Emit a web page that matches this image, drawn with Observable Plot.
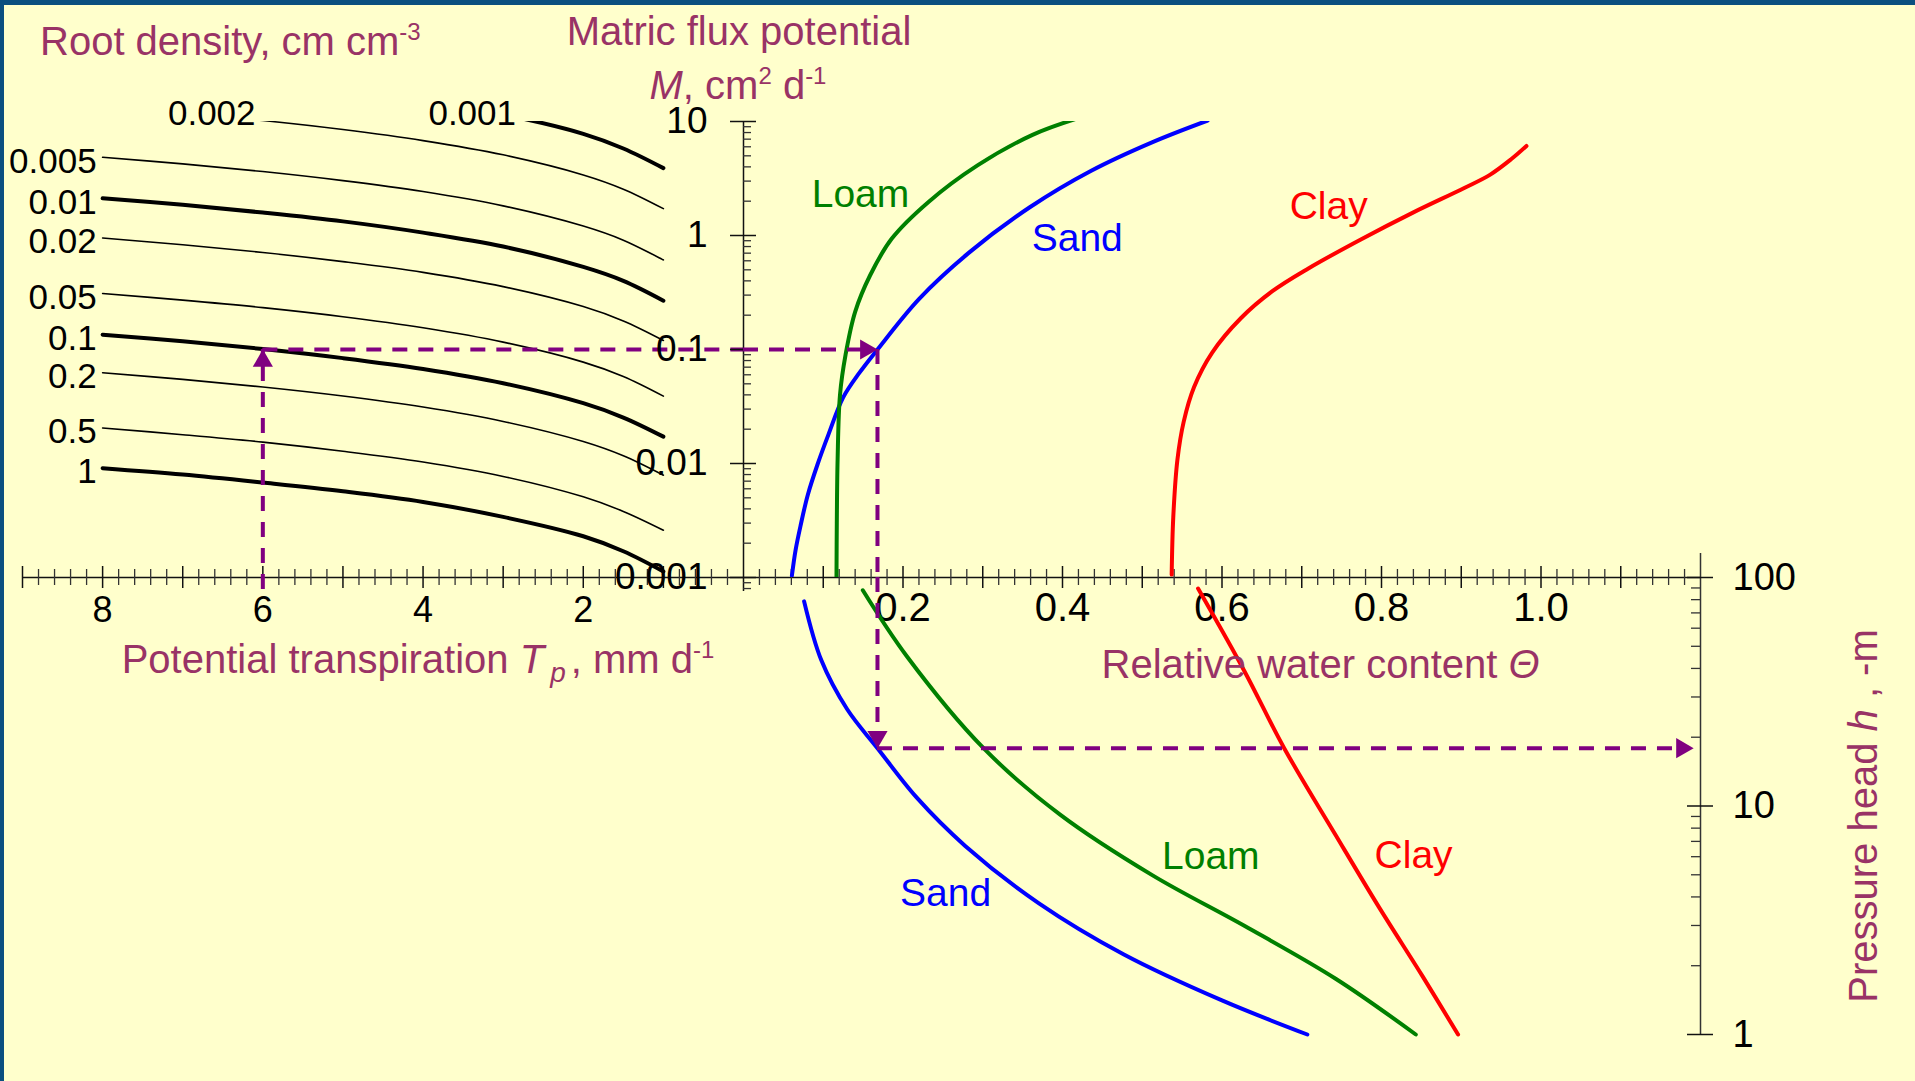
<!DOCTYPE html>
<html>
<head>
<meta charset="utf-8">
<script src="https://cdn.jsdelivr.net/npm/d3@7"></script>
<script src="https://cdn.jsdelivr.net/npm/@observablehq/plot@0.6"></script>
<style>
  html, body { margin: 0; padding: 0; background: #FFFFCC; }
  #chart { position: relative; width: 1915px; height: 1081px; background: #FFFFCC; overflow: hidden;
           font-family: "Liberation Sans", Arial, Helvetica, sans-serif;
           box-shadow: inset 4px 5px 0 0 #0B4F7F; }
  #chart svg { position: absolute; left: 0; top: 0; }
  .lbl { position: absolute; white-space: nowrap; line-height: 1; color: #993366; font-size: 40px; }
  .sup { position: relative; font-size: 0.6em; top: -0.62em; }
  .sub { position: relative; font-size: 0.7em; top: 0.3em; font-style: italic; margin-left: 6px; margin-right: 5px; }
</style>
</head>
<body>
<div id="chart"></div>
<script>
// ---------------- data ----------------
// Left quadrant: matric flux potential M (cm2/d) needed vs potential transpiration Tp (mm/d), per root density
const tpPoints = [8, 7, 6, 5, 4, 3, 2, 1.5, 1];
const rootDensities = [0.001, 0.002, 0.005, 0.01, 0.02, 0.05, 0.1, 0.2, 0.5, 1];
const mRoot0001 = [30, 26.3, 22.5, 18.8, 15, 11.5, 7.8, 5.8, 3.9];
const mRoot0002 = [13.6, 11.9, 10.2, 8.5, 6.8, 5.1, 3.4, 2.55, 1.72];
const mRoot0005 = [4.85, 4.25, 3.64, 3.03, 2.43, 1.82, 1.21, 0.91, 0.61];
const mRoot001  = [2.12, 1.86, 1.59, 1.33, 1.06, 0.80, 0.53, 0.40, 0.268];
const mRoot002  = [0.95, 0.83, 0.71, 0.59, 0.475, 0.356, 0.238, 0.178, 0.12];
const mRoot005  = [0.31, 0.271, 0.233, 0.194, 0.155, 0.116, 0.0775, 0.058, 0.039];
const mRoot01   = [0.135, 0.118, 0.101, 0.084, 0.0675, 0.0506, 0.0338, 0.0253, 0.0172];
const mRoot02   = [0.0625, 0.0547, 0.0469, 0.0391, 0.0313, 0.0234, 0.0156, 0.0117, 0.0079];
const mRoot05   = [0.0205, 0.0179, 0.0154, 0.0128, 0.0103, 0.0077, 0.0051, 0.0038, 0.0026];
const mRoot1    = [0.0091, 0.0080, 0.0068, 0.0057, 0.0046, 0.0034, 0.0023, 0.0017, 0.00113];
const thickDensities = [0.001, 0.01, 0.1, 1];

// Upper right: M vs relative water content
const sandThetaUp = [0.0607, 0.0653, 0.0715, 0.0806, 0.0928, 0.1066, 0.125, 0.145, 0.168, 0.220, 0.282, 0.359, 0.436, 0.513, 0.582];
const sandMUp     = [0.00104, 0.00174, 0.00284, 0.0053, 0.0098, 0.018, 0.038, 0.062, 0.1, 0.277, 0.70, 1.77, 3.7, 6.6, 10.2];
const loamThetaUp = [0.1166, 0.117, 0.118, 0.121, 0.128, 0.140, 0.1588, 0.186, 0.232, 0.2934, 0.3624, 0.416];
const loamMUp     = [0.001, 0.003, 0.0108, 0.040, 0.09, 0.214, 0.448, 0.94, 1.97, 4.12, 7.64, 10.5];
const clayThetaUp = [0.5369, 0.5389, 0.5441, 0.552, 0.565, 0.5877, 0.6236, 0.6627, 0.7083, 0.7735, 0.8388, 0.9038, 0.9364, 0.9625, 0.9818];
const clayMUp     = [0.00106, 0.00339, 0.0108, 0.0233, 0.0469, 0.094, 0.188, 0.323, 0.514, 0.918, 1.58, 2.61, 3.42, 4.66, 6.1];

// Lower right: pressure head h (-m) vs relative water content
const sandThetaLow = [0.076, 0.0975, 0.130, 0.168, 0.217, 0.278, 0.370, 0.477, 0.600, 0.707];
const sandHLow     = [78.6, 43.5, 26.5, 17.9, 10.9, 6.69, 3.76, 2.24, 1.41, 1.0];
const loamThetaLow = [0.1496, 0.205, 0.301, 0.397, 0.513, 0.628, 0.743, 0.843];
const loamHLow     = [87.9, 45.1, 17.9, 9.17, 4.97, 2.99, 1.75, 1.0];
const clayThetaLow = [0.570, 0.628, 0.678, 0.743, 0.797, 0.851, 0.896];
const clayHLow     = [89.5, 39, 17.9, 7.41, 3.6, 1.81, 1.0];

// Worked example (dashed arrows)
const exampleTp = 6, exampleM = 0.1, exampleTheta = 0.168, exampleH = 17.9;

// Tick labels
const tpTickLabels = [8, 6, 4, 2];
const thetaTickValues = [0.2, 0.4, 0.6, 0.8, 1.0];
const thetaTickLabels = ["0.2", "0.4", "0.6", "0.8", "1.0"];
const mTickValues = [10, 1, 0.1, 0.01, 0.001];
const mTickLabels = ["10", "1", "0.1", "0.01", "0.001"];
const hTickValues = [100, 10, 1];
const hTickLabels = ["100", "10", "1"];

// ---------------- derived tables ----------------
const rootM = [mRoot0001, mRoot0002, mRoot0005, mRoot001, mRoot002, mRoot005, mRoot01, mRoot02, mRoot05, mRoot1];
const rootRows = rootDensities.flatMap((L, k) => rootM[k].map((m, i) => ({L, tp: tpPoints[i], m})));
const thickRows = rootRows.filter(d => thickDensities.includes(d.L));
const thinRows = rootRows.filter(d => !thickDensities.includes(d.L));
const sideLabels = [], topLabels = [];
rootDensities.forEach((L, k) => {
  const m = rootM[k];
  if (m[0] < 10) sideLabels.push({L, tp: tpPoints[0], m: m[0]});
  else {
    for (let i = 0; i < m.length - 1; i++) {
      if (m[i] >= 10 && m[i + 1] < 10) {
        const t = (Math.log10(m[i]) - 1) / (Math.log10(m[i]) - Math.log10(m[i + 1]));
        topLabels.push({L, tp: tpPoints[i] + t * (tpPoints[i + 1] - tpPoints[i]), m: 10});
        break;
      }
    }
  }
});
const zip = (xs, ys, kx, ky) => xs.map((x, i) => ({[kx]: x, [ky]: ys[i]}));
const sandUp = zip(sandThetaUp, sandMUp, "theta", "m");
const loamUp = zip(loamThetaUp, loamMUp, "theta", "m");
const clayUp = zip(clayThetaUp, clayMUp, "theta", "m");
const sandLow = zip(sandThetaLow, sandHLow, "theta", "h");
const loamLow = zip(loamThetaLow, loamHLow, "theta", "h");
const clayLow = zip(clayThetaLow, clayHLow, "theta", "h");

const tpMajor = d3.range(1, 10);
const tpMinor = d3.range(1, 46).filter(i => i % 5 !== 0).map(i => i * 0.2);
const thetaMajor = d3.range(1, 12).map(i => i / 10);
const thetaMinor = d3.range(1, 60).filter(i => i % 5 !== 0).map(i => i / 50);
const mMinor = [0.0008, 0.0009].concat(...[0.001, 0.01, 0.1, 1].map(dec => d3.range(2, 10).map(k => k * dec)));
const hMinor = [].concat(...[1, 10].map(dec => d3.range(2, 10).map(k => k * dec)));

// ---------------- layout ----------------
const W = 1915, H = 1081;
const X0 = 743, XR = 1700, Y_TOP = 121, Y_AX = 577, Y_BOT = 1034;
const FONT = "'Liberation Sans', Arial, Helvetica, sans-serif";
const PURPLE = "#800080";
const DASH = "15,11";
const AR = 7.5, AOFF = 11.5;   // arrowhead size and tip offset (px)
const base = {
  width: W, height: H,
  style: {background: "transparent", fontFamily: FONT, overflow: "visible"}
};
const axisStroke = "#111";

// Left quadrant
const left = Plot.plot({
  ...base,
  marginLeft: 22, marginRight: W - X0, marginTop: Y_TOP, marginBottom: H - Y_AX,
  x: {type: "linear", domain: [9, 0], axis: null},
  y: {type: "log", domain: [0.001, 10], axis: null},
  marks: [
    Plot.ruleY([0.001], {stroke: axisStroke, strokeWidth: 1.5}),
    Plot.ruleX(tpMinor, {x: d => d, y1: 0.001, y2: 0.001, insetTop: -8, insetBottom: -8, stroke: "#333", strokeWidth: 1.3}),
    Plot.ruleX(tpMajor, {x: d => d, y1: 0.001, y2: 0.001, insetTop: -11, insetBottom: -11, stroke: axisStroke, strokeWidth: 1.5}),
    Plot.text(tpTickLabels, {x: d => d, frameAnchor: "bottom", dy: 44, text: d => String(d), fontSize: 36, fill: "black"}),
    Plot.line(thinRows, {x: "tp", y: "m", z: "L", stroke: "black", strokeWidth: 1.6, curve: "catmull-rom", clip: true}),
    Plot.line(thickRows, {x: "tp", y: "m", z: "L", stroke: "black", strokeWidth: 4, curve: "catmull-rom", clip: true}),
    Plot.text(sideLabels, {x: "tp", y: "m", text: d => String(d.L), textAnchor: "end", dx: -6, dy: 4, fontSize: 35, fill: "black"}),
    Plot.text(topLabels, {x: "tp", y: "m", text: d => String(d.L), textAnchor: "end", dx: -16, dy: -8, fontSize: 35, fill: "black"}),
    // worked example
    Plot.ruleX([exampleTp], {x: d => d, y1: 0.001, y2: exampleM, insetTop: 12, stroke: PURPLE, strokeWidth: 4, strokeDasharray: DASH}),
    Plot.ruleY([exampleM], {y: d => d, x1: exampleTp, x2: 0, stroke: PURPLE, strokeWidth: 4, strokeDasharray: DASH}),
    Plot.dot([exampleTp], {x: d => d, y: exampleM, symbol: "triangle", r: AR, fill: PURPLE, stroke: "none", dy: AOFF})
  ]
});

// Upper right quadrant
const upper = Plot.plot({
  ...base,
  marginLeft: X0, marginRight: W - XR, marginTop: Y_TOP, marginBottom: H - Y_AX,
  x: {type: "linear", domain: [0, 1.2], axis: null},
  y: {type: "log", domain: [0.001, 10], axis: null},
  marks: [
    Plot.ruleY([0.001], {stroke: axisStroke, strokeWidth: 1.5}),
    Plot.ruleX(thetaMinor, {x: d => d, y1: 0.001, y2: 0.001, insetTop: -8, insetBottom: -8, stroke: "#333", strokeWidth: 1.3}),
    Plot.ruleX(thetaMajor, {x: d => d, y1: 0.001, y2: 0.001, insetTop: -11, insetBottom: -11, stroke: axisStroke, strokeWidth: 1.5}),
    Plot.text(thetaTickValues, {x: d => d, frameAnchor: "bottom", dy: 43, text: (d, i) => thetaTickLabels[i], fontSize: 40, fill: "black"}),
    // M axis
    Plot.ruleX([0], {x: d => d, y1: 10, y2: 0.001, insetBottom: -14, stroke: axisStroke, strokeWidth: 1.5}),
    Plot.ruleY(mMinor, {y: d => d, x1: 0, x2: 0, insetLeft: 0, insetRight: -8, stroke: "#333", strokeWidth: 1.3}),
    Plot.ruleY(mTickValues, {y: d => d, x1: 0, x2: 0, insetLeft: -13, insetRight: -13, stroke: axisStroke, strokeWidth: 1.5}),
    Plot.text(mTickValues, {y: d => d, frameAnchor: "left", dx: -36, textAnchor: "end", text: (d, i) => mTickLabels[i], fontSize: 37, fill: "black"}),
    // soil curves
    Plot.line(sandUp, {x: "theta", y: "m", stroke: "#0000FF", strokeWidth: 4, curve: "catmull-rom", clip: true}),
    Plot.line(loamUp, {x: "theta", y: "m", stroke: "#008000", strokeWidth: 4, curve: "catmull-rom", clip: true}),
    Plot.line(clayUp, {x: "theta", y: "m", stroke: "#FF0000", strokeWidth: 4, curve: "catmull-rom", clip: true}),
    // worked example
    Plot.ruleY([exampleM], {y: d => d, x1: 0, x2: exampleTheta, insetRight: 12, stroke: PURPLE, strokeWidth: 4, strokeDasharray: DASH}),
    Plot.ruleX([exampleTheta], {x: d => d, y1: exampleM, y2: 0.001, stroke: PURPLE, strokeWidth: 4, strokeDasharray: DASH}),
    Plot.dot([exampleTheta], {x: d => d, y: exampleM, symbol: "triangle", r: AR, rotate: 90, fill: PURPLE, stroke: "none", dx: -AOFF})
  ]
});

// Lower right quadrant
const lower = Plot.plot({
  ...base,
  marginLeft: X0, marginRight: W - XR, marginTop: Y_AX, marginBottom: H - Y_BOT,
  x: {type: "linear", domain: [0, 1.2], axis: null},
  y: {type: "log", domain: [1, 100], axis: null},
  marks: [
    Plot.ruleX([1.2], {x: d => d, y1: 100, y2: 1, insetTop: -24, stroke: "#333", strokeWidth: 1.5}),
    Plot.ruleY(hMinor, {y: d => d, x1: 1.2, x2: 1.2, insetLeft: -9, insetRight: 0, stroke: "#333", strokeWidth: 1.3}),
    Plot.ruleY(hTickValues, {y: d => d, x1: 1.2, x2: 1.2, insetLeft: -13, insetRight: -13, stroke: axisStroke, strokeWidth: 1.5}),
    Plot.text(hTickValues, {y: d => d, frameAnchor: "right", dx: 32, textAnchor: "start", text: (d, i) => hTickLabels[i], fontSize: 38, fill: "black"}),
    Plot.line(sandLow, {x: "theta", y: "h", stroke: "#0000FF", strokeWidth: 4, curve: "catmull-rom"}),
    Plot.line(loamLow, {x: "theta", y: "h", stroke: "#008000", strokeWidth: 4, curve: "catmull-rom"}),
    Plot.line(clayLow, {x: "theta", y: "h", stroke: "#FF0000", strokeWidth: 4, curve: "catmull-rom"}),
    // worked example
    Plot.ruleX([exampleTheta], {x: d => d, y1: 100, y2: exampleH, insetBottom: 12, stroke: PURPLE, strokeWidth: 4, strokeDasharray: DASH}),
    Plot.dot([exampleTheta], {x: d => d, y: exampleH, symbol: "triangle", r: AR, rotate: 180, fill: PURPLE, stroke: "none", dy: -AOFF}),
    Plot.ruleY([exampleH], {y: d => d, x1: exampleTheta, x2: 1.2, insetRight: 19, stroke: PURPLE, strokeWidth: 4, strokeDasharray: DASH}),
    Plot.dot([1.2], {x: d => d, y: exampleH, symbol: "triangle", r: AR, rotate: 90, fill: PURPLE, stroke: "none", dx: -7 - AOFF})
  ]
});

const chart = document.getElementById("chart");
chart.append(left, upper, lower);

// ---------------- text labels ----------------
function label(html, x, baseline, opts = {}) {
  const size = opts.size || 40;
  const d = document.createElement("div");
  d.className = "lbl";
  d.innerHTML = html;
  d.style.fontSize = size + "px";
  d.style.top = (baseline - 0.8465 * size) + "px";
  if (opts.color) d.style.color = opts.color;
  d.style.left = x + "px";
  if (opts.center) d.style.transform = "translateX(-50%)";
  chart.appendChild(d);
  return d;
}
label('Root density, cm cm<span class="sup">-3</span>', 40, 55);
label('Matric flux potential', 739, 45, {center: true});
label('<i>M</i>, cm<span class="sup">2</span> d<span class="sup">-1</span>', 738, 99, {center: true});
label('Potential transpiration <i>T</i><span class="sub">p</span>, mm d<span class="sup">-1</span>', 121.7, 673);
label('Relative water content <i>&Theta;</i>', 1101.6, 678);
// rotated pressure head title
const ph = document.createElement("div");
ph.className = "lbl";
ph.innerHTML = 'Pressure head <i>h</i> , -m';
ph.style.left = "1862.5px";
ph.style.top = "816px";
ph.style.transform = "translate(-50%, -50%) rotate(-90deg)";
chart.appendChild(ph);

// soil names
label('Loam', 811.7, 206.7, {color: "#008000", size: 39});
label('Sand', 1031.7, 250.7, {color: "#0000FF", size: 39});
label('Clay', 1289.7, 219, {color: "#FF0000", size: 39});
label('Sand', 900, 905.7, {color: "#0000FF", size: 39});
label('Loam', 1162, 868.8, {color: "#008000", size: 39});
label('Clay', 1374.6, 867.8, {color: "#FF0000", size: 39});
</script>
</body>
</html>
